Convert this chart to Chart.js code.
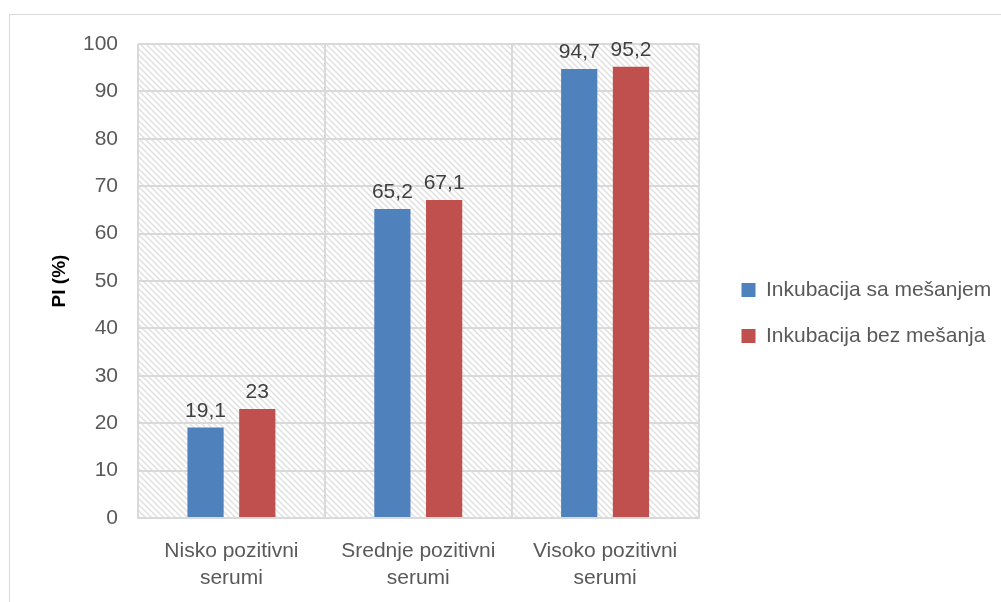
<!DOCTYPE html>
<html>
<head>
<meta charset="utf-8">
<script src="https://cdn.jsdelivr.net/npm/chart.js@4/dist/chart.umd.min.js"></script>
<style>
  html, body { margin: 0; padding: 0; background: #fff; }
  #wrap { width: 1001px; height: 602px; }
</style>
</head>
<body>
<div id="wrap"><canvas id="chart" width="1001" height="602"></canvas></div>
<script>
const categories = [
    ['Nisko pozitivni', 'serumi'],
    ['Srednje pozitivni', 'serumi'],
    ['Visoko pozitivni', 'serumi']
];
const seriesNames = ['Inkubacija sa mešanjem', 'Inkubacija bez mešanja'];
const withMixing = [19.1, 65.2, 94.7];
const withoutMixing = [23, 67.1, 95.2];
const yTicks = [0, 10, 20, 30, 40, 50, 60, 70, 80, 90, 100];

const FONT = "'Liberation Sans', 'DejaVu Sans', sans-serif";
const FS = 21;

// light diagonal hatch behind the plot area
function makeHatch(ctx) {
    const c = document.createElement('canvas');
    c.width = 6;
    c.height = 6;
    const p = c.getContext('2d');
    p.strokeStyle = '#e0e0e0';
    p.lineWidth = 1.5;
    p.beginPath();
    p.moveTo(-1, -1); p.lineTo(7, 7);
    p.moveTo(-1, 5); p.lineTo(1, 7);
    p.moveTo(5, -1); p.lineTo(7, 1);
    p.stroke();
    return ctx.createPattern(c, 'repeat');
}

const backdrop = {
    id: 'backdrop',
    afterLayout(chart) {
        // legend sits a bit away from the plot and spans to the canvas edge
        const lg = chart.legend;
        lg.left = chart.chartArea.right + 18;
        lg.right = chart.width;
        lg.width = lg.right - lg.left;
        lg.top -= 10;
        lg.bottom -= 10;
    },
    beforeDraw(chart) {
        const {ctx, chartArea} = chart;
        ctx.save();
        ctx.fillStyle = '#fff';
        ctx.fillRect(0, 0, chart.width, chart.height);
        ctx.strokeStyle = '#d9d9d9';
        ctx.lineWidth = 1;
        ctx.strokeRect(9.5, 14.5, chart.width + 10, chart.height + 10);
        ctx.fillStyle = makeHatch(ctx);
        ctx.fillRect(chartArea.left, chartArea.top, chartArea.right - chartArea.left, chartArea.bottom - chartArea.top);
        ctx.restore();
    }
};

const valueLabels = {
    id: 'valueLabels',
    afterDatasetsDraw(chart) {
        const {ctx} = chart;
        ctx.save();
        ctx.font = FS + 'px ' + FONT;
        ctx.fillStyle = '#404040';
        ctx.textAlign = 'center';
        ctx.textBaseline = 'bottom';
        chart.data.datasets.forEach((ds, i) => {
            chart.getDatasetMeta(i).data.forEach((bar, j) => {
                ctx.fillText(String(ds.data[j]).replace('.', ','), bar.x, bar.y - 6);
            });
        });
        ctx.restore();
    }
};

new Chart(document.getElementById('chart').getContext('2d'), {
    type: 'bar',
    data: {
        labels: categories,
        datasets: [
            {
                label: seriesNames[0],
                data: withMixing,
                backgroundColor: '#4F81BD'
            },
            {
                label: seriesNames[1],
                data: withoutMixing,
                backgroundColor: '#C0504D'
            }
        ]
    },
    options: {
        responsive: false,
        animation: false,
        devicePixelRatio: 1,
        layout: {
            padding: {left: 10, right: 73, top: 44, bottom: 0}
        },
        datasets: {
            bar: {
                categoryPercentage: 0.554,
                barPercentage: 0.7
            }
        },
        scales: {
            x: {
                afterFit(axis) {
                    axis.height = 84;
                },
                grid: {
                    color: '#d9d9d9',
                    lineWidth: 2,
                    offset: true,
                    drawTicks: false
                },
                border: {color: '#d9d9d9', width: 2},
                ticks: {
                    color: '#595959',
                    font: {family: FONT, size: FS, lineHeight: 1.28},
                    padding: 20
                }
            },
            y: {
                min: 0,
                max: 100,
                afterBuildTicks(axis) {
                    axis.ticks = yTicks.map((v) => ({value: v}));
                },
                afterFit(axis) {
                    axis.width = 128;
                },
                grid: {
                    color: '#d9d9d9',
                    lineWidth: 2,
                    drawTicks: false
                },
                border: {display: false},
                ticks: {
                    color: '#595959',
                    font: {family: FONT, size: FS},
                    padding: 20
                },
                title: {
                    display: true,
                    text: 'PI (%)',
                    color: '#000',
                    font: {family: FONT, size: 19, weight: 'bold'},
                    padding: {top: 38, bottom: 0}
                }
            }
        },
        plugins: {
            legend: {
                position: 'right',
                align: 'center',
                labels: {
                    color: '#595959',
                    font: {family: FONT, size: FS},
                    boxWidth: 14,
                    boxHeight: 14,
                    padding: 25
                }
            },
            tooltip: {enabled: false}
        }
    },
    plugins: [backdrop, valueLabels]
});
</script>
</body>
</html>
